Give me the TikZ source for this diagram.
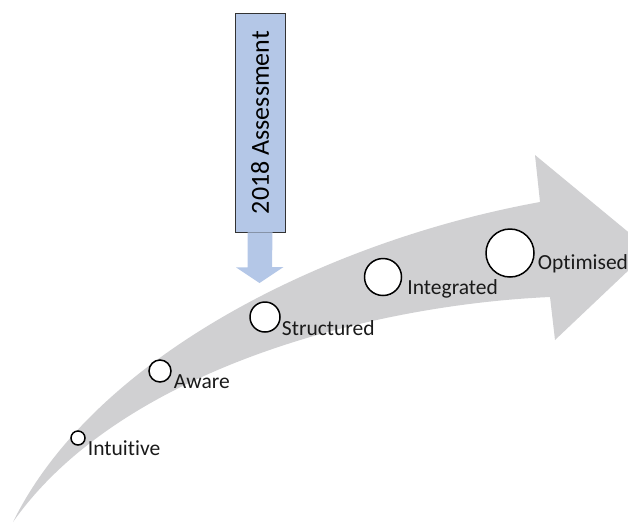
\documentclass[tikz,border=0pt]{standalone}
\usepackage{fontspec}
\setmainfont[Ligatures={NoCommon}]{Carlito}
\usepackage{tikz}
\usetikzlibrary{%
  shapes, calc, positioning
}
\usepackage{xcolor}
\definecolor{msGrey}{HTML}{D0D0D2}
\definecolor{msBlue}{HTML}{B4C7E7}
\definecolor{msText}{HTML}{1A1A1A}
\tikzstyle{stage} = [%
  circle,
  draw=black,
  fill=white,
  line width=1.5pt,
  inner sep=0pt
]
\tikzstyle{lbl} = [%
  anchor=west,
  inner sep=0pt,
  text=msText,
  font=\fontsize{21.5}{26}\selectfont
]

\begin{document}
\begin{tikzpicture}[%
  x=1pt, y=-1pt,
  callout/.style={%
    rectangle,
    draw=black!80,
    fill=msBlue,
    line width=0.8pt,
    rotate=90,
    minimum width=219pt,
    minimum height=50pt,
    inner sep=0pt,
    font=\fontsize{26}{30}\selectfont
  }
]
  \useasboundingbox (0,0) rectangle (628,523);

  % Big arrow
  \fill[msGrey] (13,522) .. controls (95,355) and (330,240) .. (540,202)
    -- (535,155) -- (650,250) -- (555,340) -- (550,297)
    .. controls (370,305) and (120,370) .. (13,522) -- cycle;

  % Assessment call-out (west is the bottom of the turned box)
  \node[callout] (A18) at (260,122.5) {2018 Assessment};
  \coordinate (tip) at (259.5,283);
  \fill[msBlue] ([xshift=-12.5pt]A18.west) -- ++(0,35) -- ++(-11.5,0)
    -- (tip) -- ++(24,-16) -- ++(-11.5,0) -- ([xshift=12.5pt]A18.west) -- cycle;

  % Nodes
  \node[stage,minimum size=14pt] (S1) at (78,438) {};
  \node[stage,minimum size=22pt] (S2) at (160,371) {};
  \node[stage,minimum size=30pt] (S3) at (265,317) {};
  \node[stage,minimum size=37pt] (S4) at (383,277) {};
  \node[stage,minimum size=48pt] (S5) at (510,253) {};

  % Labels
  \node[lbl,right=2pt of S1,yshift=-10pt] (L1) {Intuitive};
  \node[lbl,right=2pt of S2,yshift=-11pt] (L2) {Aware};
  \node[lbl,right=1pt of S3,yshift=-11pt] (L3) {Structured};
  \node[lbl,right=5pt of S4,yshift=-12pt] (L4) {Integrated};
  \node[lbl,right=3pt of S5,yshift=-11pt] (L5) {Optimised};

\end{tikzpicture}
\end{document}
